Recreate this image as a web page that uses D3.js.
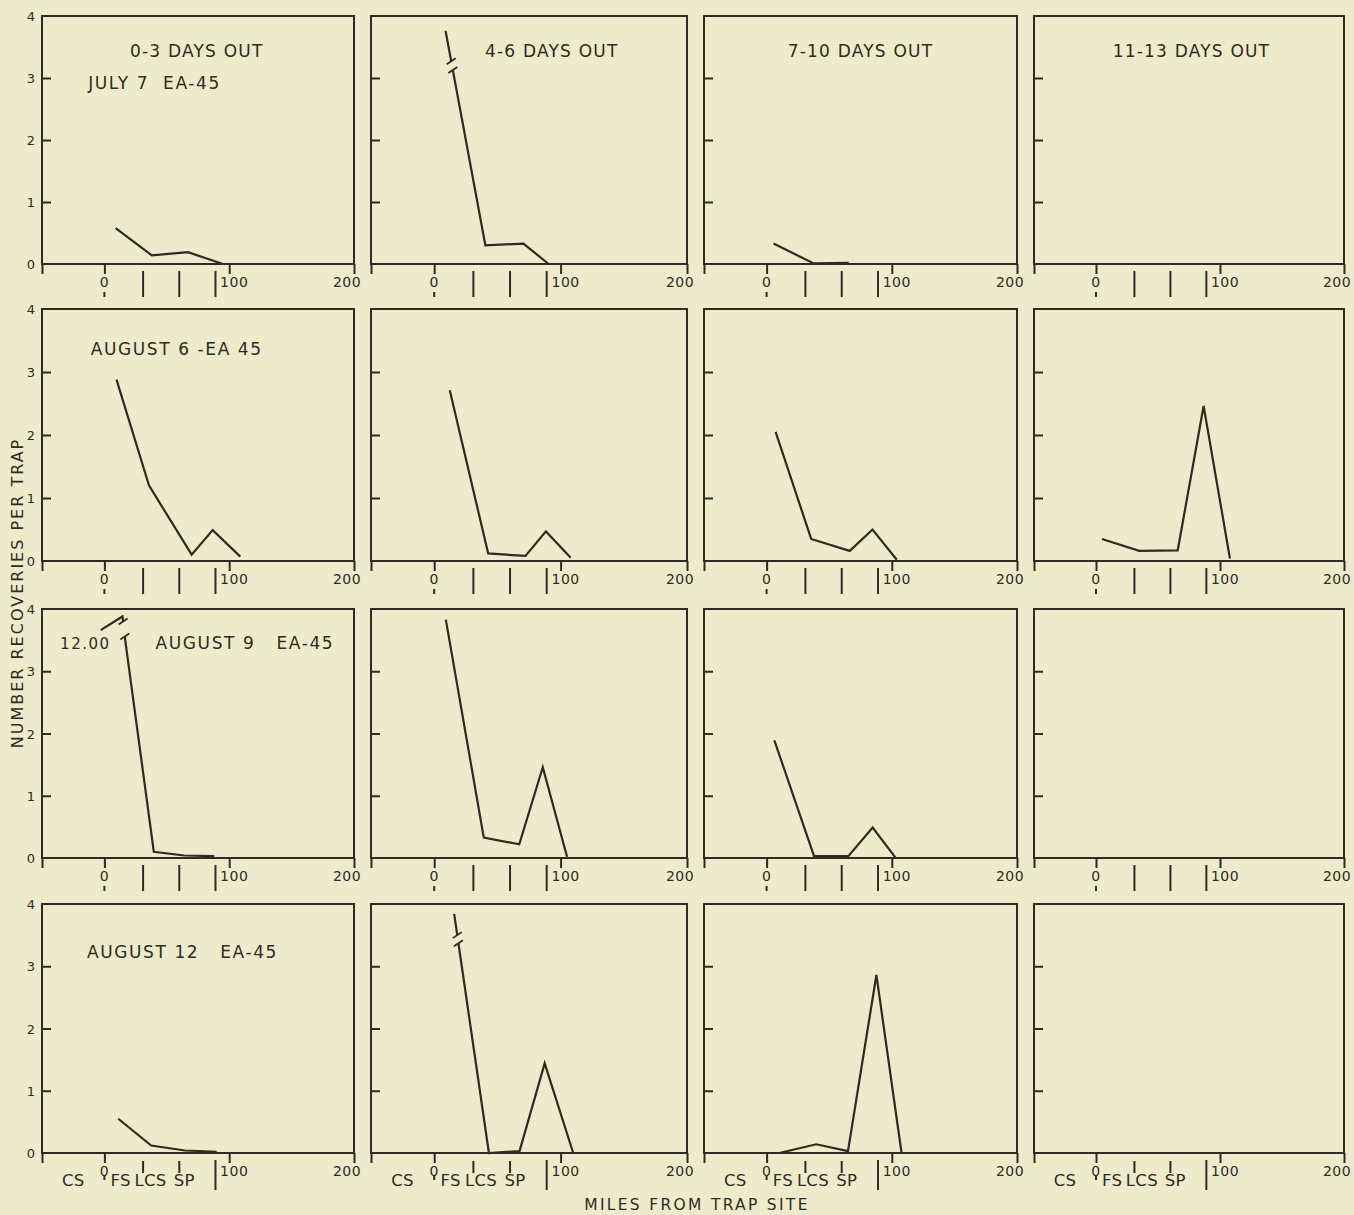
<!DOCTYPE html>
<html><head><meta charset="utf-8">
<script src="https://cdn.jsdelivr.net/npm/d3@7"></script>
<style>
html,body{margin:0;padding:0;background:#eeebcc;}
svg{display:block;}
text{font-family:"DejaVu Sans",sans-serif;fill:#2d2b22;white-space:pre;}
</style></head><body>
<svg id="chart" width="1354" height="1215"></svg>
<script>
// ---------- data ----------
const dayGroups = ["0-3 DAYS OUT", "4-6 DAYS OUT", "7-10 DAYS OUT", "11-13 DAYS OUT"];
const releaseLabels = ["JULY 7  EA-45", "AUGUST 6 -EA 45", "AUGUST 9   EA-45", "AUGUST 12   EA-45"];
const yTickValues = [0, 1, 2, 3, 4];
const xTickValues = [-50, 0, 100, 200];
const xTickLabels = [0, 100, 200];
const stationNames = ["CS", "FS", "LCS", "SP"];
const stationMiles = [0, 31, 60, 89];
const stationLabelMiles = [-25, 13, 37, 64];

// [miles from trap site, recoveries per trap]
const jul7_d0_3   = [[9,0.58],[38,0.14],[67,0.19],[95,0]];
const jul7_d4_6   = [[9,3.76],[40.5,0.3],[70.6,0.33],[90.5,0]];
const jul7_d7_10  = [[5.5,0.33],[37.6,0.01],[65.6,0.02]];
const jul7_d11_13 = [];
const aug6_d0_3   = [[9.7,2.88],[35.7,1.2],[69.9,0.1],[86.8,0.49],[108.9,0.07]];
const aug6_d4_6   = [[12.3,2.71],[42.7,0.12],[72.2,0.08],[88.4,0.47],[108,0.05]];
const aug6_d7_10  = [[7.2,2.05],[35.6,0.35],[66.4,0.16],[84.6,0.5],[104,0.02]];
const aug6_d11_13 = [[4.8,0.35],[34.9,0.16],[65.9,0.17],[86.8,2.46],[108,0.04]];
const aug9_d0_3   = [[-3,3.66],[14.5,3.88],[17,3.45],[39.6,0.1],[64,0.04],[88,0.03]];
const aug9_d4_6   = [[9.2,3.83],[39.2,0.33],[67.3,0.22],[85.9,1.46],[105.1,0.02]];
const aug9_d7_10  = [[6.2,1.89],[37.9,0.03],[65.3,0.03],[84.7,0.49],[102.8,0.01]];
const aug9_d11_13 = [];
const aug12_d0_3  = [[11.1,0.55],[37.5,0.12],[64.5,0.04],[90,0.02]];
const aug12_d4_6  = [[15.8,3.84],[43.3,0],[67.5,0.03],[87.4,1.44],[110,0]];
const aug12_d7_10 = [[10.2,0],[39.6,0.14],[65,0.03],[87.7,2.86],[107.8,0]];
const aug12_d11_13= [];

const seriesGrid = [
  [jul7_d0_3, jul7_d4_6, jul7_d7_10, jul7_d11_13],
  [aug6_d0_3, aug6_d4_6, aug6_d7_10, aug6_d11_13],
  [aug9_d0_3, aug9_d4_6, aug9_d7_10, aug9_d11_13],
  [aug12_d0_3, aug12_d4_6, aug12_d7_10, aug12_d11_13]
];
// scale breaks: row, col, segment index, break band (value range)
const scaleBreaks = [
  {row:0, col:1, seg:0, hi:3.27, lo:3.13},
  {row:2, col:0, seg:1, hi:3.80, lo:3.56},
  {row:3, col:1, seg:0, hi:3.50, lo:3.37}
];
const offscaleNotes = [{row:2, col:0, text:"12.00"}];

// ---------- layout ----------
const W = 1354, H = 1215;
const colLeft  = [42, 371, 704, 1034];
const colRight = [354, 687, 1017, 1344];
const rowTop    = [16, 309, 609, 904];
const rowBottom = [264, 561, 858, 1153];
const titleMiles = [74, 93, 75, 77];
const releasePos = [{m:-13, dy:73}, {m:-11, dy:46}, {m:41, dy:40}, {m:-14, dy:54}];
const notePos = {m:-35.5, dy:40};
const ink = "#2d2b22";

const svg = d3.select("#chart");
svg.append("rect").attr("width", W).attr("height", H).attr("fill", "#eeebcc");

for (let r = 0; r < 4; r++) {
  for (let c = 0; c < 4; c++) {
    const x = d3.scaleLinear().domain([-50, 200]).range([colLeft[c], colRight[c]]);
    const y = d3.scaleLinear().domain([0, 4]).range([rowBottom[r], rowTop[r]]);
    const g = svg.append("g");

    // frame
    g.append("rect")
      .attr("x", x(-50)).attr("y", y(4))
      .attr("width", x(200) - x(-50)).attr("height", y(0) - y(4))
      .attr("fill", "none").attr("stroke", ink).attr("stroke-width", 2);

    // y axis: inward ticks
    const yAxis = d3.axisRight(y).tickValues([1, 2, 3]).tickSize(9).tickFormat("");
    const ya = g.append("g").attr("transform", `translate(${x(-50)},0)`).call(yAxis);
    ya.select(".domain").remove();
    ya.selectAll("line").attr("stroke", ink).attr("stroke-width", 2);

    if (c === 0) {
      g.selectAll(".ylab").data(yTickValues).join("text")
        .attr("x", x(-50) - 7).attr("y", d => y(d) + 5)
        .attr("text-anchor", "end").attr("font-size", 13).text(d => d);
    }

    // x axis: downward ticks
    const xAxis = d3.axisBottom(x).tickValues(xTickValues).tickSize(10).tickFormat("");
    const xa = g.append("g").attr("transform", `translate(0,${y(0)})`).call(xAxis);
    xa.select(".domain").remove();
    xa.selectAll("line").attr("stroke", ink).attr("stroke-width", 2);

    g.selectAll(".xlab").data(xTickLabels).join("text")
      .attr("x", d => x(d) + (d === 100 ? 5 : d === 200 ? -7 : 0))
      .attr("y", y(0) + 23)
      .attr("text-anchor", "middle").attr("font-size", 14)
      .attr("letter-spacing", 0.5).text(d => d);

    // station markers
    const last = r === 3;
    stationMiles.forEach((m, i) => {
      let y1, y2;
      if (i === 0) { y1 = last ? 22 : 28; y2 = last ? 27 : 33; }
      else if (i === 3) { y1 = 7; y2 = last ? 37 : 33; }
      else { y1 = last ? 8 : 7; y2 = last ? 20 : 33; }
      g.append("line")
        .attr("x1", x(m)).attr("x2", x(m))
        .attr("y1", y(0) + y1).attr("y2", y(0) + y2)
        .attr("stroke", ink).attr("stroke-width", 2);
    });
    if (last) {
      g.selectAll(".stn").data(stationNames).join("text")
        .attr("x", (d, i) => x(stationLabelMiles[i]))
        .attr("y", y(0) + 33)
        .attr("text-anchor", "middle").attr("font-size", 16.5)
        .attr("letter-spacing", 0.3).text(d => d);
    }

    // titles
    if (r === 0) {
      g.append("text").attr("x", x(titleMiles[c])).attr("y", y(4) + 41)
        .attr("text-anchor", "middle").attr("font-size", 17)
        .attr("letter-spacing", 1.2).text(dayGroups[c]);
    }
    if (c === 0) {
      g.append("text").attr("x", x(releasePos[r].m)).attr("y", y(4) + releasePos[r].dy)
        .attr("font-size", 17).attr("letter-spacing", 1.6).text(releaseLabels[r]);
    }
    offscaleNotes.filter(n => n.row === r && n.col === c).forEach(n => {
      g.append("text").attr("x", x(notePos.m)).attr("y", y(4) + notePos.dy)
        .attr("font-size", 15).attr("letter-spacing", 1.5).text(n.text);
    });

    // data line
    const data = seriesGrid[r][c];
    if (!data.length) continue;
    const line = d3.line().x(d => x(d[0])).y(d => y(d[1]));
    const brk = scaleBreaks.find(b => b.row === r && b.col === c);
    const style = p => p.attr("fill", "none").attr("stroke", ink)
      .attr("stroke-width", 2.2).attr("stroke-linejoin", "miter");
    if (!brk) {
      style(g.append("path").attr("d", line(data)));
    } else {
      const p0 = data[brk.seg], p1 = data[brk.seg + 1];
      const at = v => {
        const t = (p0[1] - v) / (p0[1] - p1[1]);
        return [p0[0] + t * (p1[0] - p0[0]), v];
      };
      const hiPt = at(brk.hi), loPt = at(brk.lo);
      const partA = data.slice(0, brk.seg + 1).concat([hiPt]);
      const partB = [loPt].concat(data.slice(brk.seg + 1));
      style(g.append("path").attr("d", line(partA)));
      style(g.append("path").attr("d", line(partB)));
      [hiPt, loPt].forEach(p => {
        const px = x(p[0]), py = y(p[1]);
        g.append("line")
          .attr("x1", px - 4.5).attr("y1", py + 3)
          .attr("x2", px + 4.5).attr("y2", py - 3)
          .attr("stroke", ink).attr("stroke-width", 1.8);
      });
    }
  }
}

// axis titles
svg.append("text").attr("x", 697).attr("y", 1210)
  .attr("text-anchor", "middle").attr("font-size", 15.5).attr("letter-spacing", 2.3)
  .text("MILES FROM TRAP SITE");
svg.append("text")
  .attr("transform", "translate(23,593) rotate(-90)")
  .attr("text-anchor", "middle").attr("font-size", 16).attr("letter-spacing", 2)
  .text("NUMBER RECOVERIES PER TRAP");
</script>
</body></html>
